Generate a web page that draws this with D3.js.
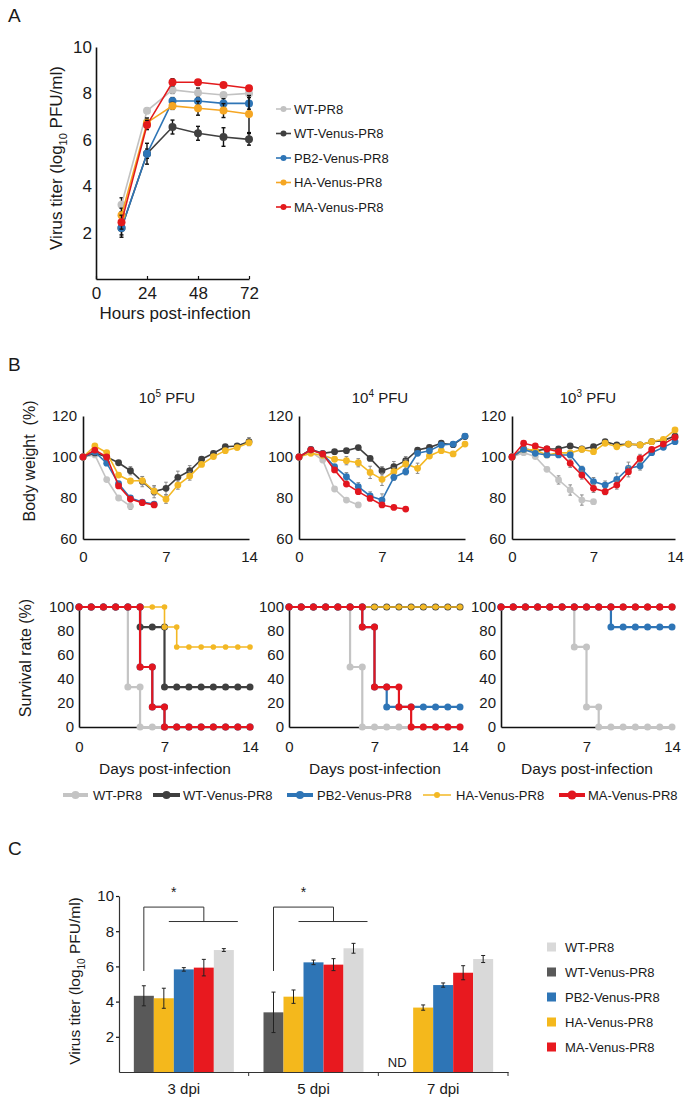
<!DOCTYPE html>
<html><head><meta charset="utf-8">
<script src="https://cdn.jsdelivr.net/npm/d3@7"></script>
<style>
body{margin:0;background:#fff}
text{font-family:"Liberation Sans",Arial,Helvetica,sans-serif;fill:#1a1a1a}
</style>
</head><body>
<svg id="fig" width="685" height="1102"></svg>
<script>
// ---------------- DATA ----------------
const strains = ["WT-PR8","WT-Venus-PR8","PB2-Venus-PR8","HA-Venus-PR8","MA-Venus-PR8"];

// Panel A: multi-step growth
const hoursA = [12,24,36,48,60,72];
const hoursTicksA = [0,24,48,72];
const titerTicksA = [2,4,6,8,10];
const titerA_WT  = [3.2,7.25,8.15,8.03,7.93,8.0];
const titerA_WTV = [2.2,5.4,6.55,6.28,6.12,6.02];
const titerA_PB2 = [2.2,5.4,7.67,7.67,7.57,7.57];
const titerA_HA  = [2.75,6.74,7.46,7.36,7.26,7.11];
const titerA_MA  = [2.45,6.64,8.48,8.48,8.36,8.22];
const errA_WT  = [0.3,0.1,0.15,0.2,0.1,0.15];
const errA_WTV = [0.4,0.45,0.3,0.3,0.4,0.25];
const errA_PB2 = [0.3,0.2,0.15,0.15,0.2,0.25];
const errA_HA  = [0.3,0.2,0.15,0.3,0.3,0.8];
const errA_MA  = [0.3,0.2,0.15,0.1,0.1,0.1];

// Panel B: body weight (%), days 0..14
const daysB = [0,1,2,3,4,5,6,7,8,9,10,11,12,13,14];
const doseTitles = ["5","4","3"];
const weightTicks = [60,80,100,120];
const dayTicks = [0,7,14];
const survTicks = [0,20,40,60,80,100];
const wt5_WT  = [100,101,89,80,76,null,null,null,null,null,null,null,null,null,null];
const wt5_WTV = [100,102,100,97.2,93.3,88,83.1,84.7,90.1,93.3,98.9,101.8,105,105.4,107.5];
const wt5_PB2 = [100,102.5,97,87,80,78,77,null,null,null,null,null,null,null,null];
const wt5_HA  = [100,105.4,102.1,91.2,88.3,88.5,83.4,79.4,86.3,90.7,96.4,100.2,103.1,104.6,107];
const wt5_MA  = [100,103.4,100,85.9,79.5,77.7,76.6,null,null,null,null,null,null,null,null];
const wt4_WT  = [100,102.5,98.5,84.4,79,76.6,null,null,null,null,null,null,null,null,null];
const wt4_WTV = [100,103.7,101.8,102.6,103.1,104.6,99.3,93.3,95.3,98.2,103.4,104.7,106.7,106,110];
const wt4_PB2 = [100,103.5,101.5,95.3,90.4,85.5,81,79,90.1,92.8,101.8,103,105.9,106.3,110.2];
const wt4_HA  = [100,101.8,100.8,98.9,98.2,97.2,92.5,89.1,92.8,96.6,94.5,100.5,103.1,101.5,106.3];
const wt4_MA  = [100,103.5,101.5,93.7,86.8,83.1,79.8,76.6,75.4,74.6,null,null,null,null,null];
const wt3_WT  = [100,102.1,100.2,94,88.8,83.9,79,78.2,null,null,null,null,null,null,null];
const wt3_WTV = [100,104,103,103.9,104,105.4,103.9,105,107.5,105.9,106.3,105.9,107.5,108,110.2];
const wt3_PB2 = [100,103.7,101.8,101,101,101,94,88,86.3,89.1,94.5,95.6,102.1,104.7,107.5];
const wt3_HA  = [100,103.7,103.4,101,102.1,102,103.7,102.6,106.7,105,106.3,105.9,107.5,108.6,113.2];
const wt3_MA  = [100,106.7,105.4,103.9,102.6,96.9,91.2,84.7,83.1,86.3,92.8,99.3,103.7,106.3,109.6];
// weight error bars (SD)
const we5_WT  = [0,0,0,1,1.5,0,0,0,0,0,0,0,0,0,0];
const we5_WTV = [0,0,0,1,2,2.5,3,3,3,2.5,1,1,1,1,2];
const we5_HA  = [0,1,1,1,1,2,2,2,2,2,1,1,1,1,1];
const we4_WTV = [0,0,0,0,0,0,1,2,2.5,2,1,1,1,1,1];
const we4_PB2 = [0,0,0,1,2,2,2,3,1.5,1.5,1,1,1,1,1];
const we4_HA  = [0,0,0,1,2,2,3,3,2,2,2.5,1,1,1,1];
const we3_WT  = [0,0,0,1,2,2.5,2.5,1];
const we3_PB2 = [0,0,0,0,0,0,1.5,2,2,3,3,2,1,1,1];
const we3_MA  = [0,0,0,0,0,2,2,2,1.5,2,2.5,2,1,1,1];

// Panel B: survival (%), days 0..14
const sv5_WT  = [100,100,100,100,33.3,0,0,0,0,0,0,0,0,0,0];
const sv5_WTV = [100,100,100,100,100,83.3,83.3,33.3,33.3,33.3,33.3,33.3,33.3,33.3,33.3];
const sv5_PB2 = [100,100,100,100,100,50,16.7,0,0,0,0,0,0,0,0];
const sv5_HA  = [100,100,100,100,100,100,100,83.3,66.7,66.7,66.7,66.7,66.7,66.7,66.7];
const sv5_MA  = [100,100,100,100,100,50,16.7,0,0,0,0,0,0,0,0];
const sv4_WT  = [100,100,100,100,100,50,0,0,0,0,0,0,0,0,0];
const sv4_WTV = [100,100,100,100,100,100,100,100,100,100,100,100,100,100,100];
const sv4_PB2 = [100,100,100,100,100,100,83.3,33.3,16.7,16.7,16.7,16.7,16.7,16.7,16.7];
const sv4_HA  = [100,100,100,100,100,100,100,100,100,100,100,100,100,100,100];
const sv4_MA  = [100,100,100,100,100,100,83.3,33.3,33.3,16.7,0,0,0,0,0];
const sv3_WT  = [100,100,100,100,100,100,66.7,16.7,0,0,0,0,0,0,0];
const sv3_WTV = [100,100,100,100,100,100,100,100,100,100,100,100,100,100,100];
const sv3_PB2 = [100,100,100,100,100,100,100,100,100,83.3,83.3,83.3,83.3,83.3,83.3];
const sv3_HA  = [100,100,100,100,100,100,100,100,100,100,100,100,100,100,100];
const sv3_MA  = [100,100,100,100,100,100,100,100,100,100,100,100,100,100,100];

// Panel C: lung titers
const dpiLabels = ["3 dpi","5 dpi","7 dpi"];
const barOrder = ["WT-Venus-PR8","HA-Venus-PR8","PB2-Venus-PR8","MA-Venus-PR8","WT-PR8"];
const legendOrderC = ["WT-PR8","WT-Venus-PR8","PB2-Venus-PR8","HA-Venus-PR8","MA-Venus-PR8"];
const titerTicksC = [2,4,6,8,10];
const titerC_WTV = [4.33,3.39,null];
const titerC_HA  = [4.19,4.28,3.66];
const titerC_PB2 = [5.83,6.23,4.94];
const titerC_MA  = [5.93,6.10,5.64];
const titerC_WT  = [6.93,7.03,6.42];
const errC_WTV = [0.57,1.15,0];
const errC_HA  = [0.57,0.38,0.15];
const errC_PB2 = [0.1,0.13,0.12];
const errC_MA  = [0.47,0.34,0.4];
const errC_WT  = [0.08,0.28,0.2];

// ---------------- DRAWING ----------------
const svg = d3.select("#fig");
const colA = {"WT-PR8":"#c2c2c2","WT-Venus-PR8":"#404040","PB2-Venus-PR8":"#2e75b6","HA-Venus-PR8":"#f5a623","MA-Venus-PR8":"#e31a1c"};
const colB = {"WT-PR8":"#c4c4c4","WT-Venus-PR8":"#3f3f3f","PB2-Venus-PR8":"#2e75b6","HA-Venus-PR8":"#f3b824","MA-Venus-PR8":"#e2161f"};
const colC = {"WT-PR8":"#d9d9d9","WT-Venus-PR8":"#595959","PB2-Venus-PR8":"#2e75b6","HA-Venus-PR8":"#f4b81c","MA-Venus-PR8":"#e8191f"};

function styleAxis(g, size){
  g.attr("font-size", size);
  g.select(".domain").attr("stroke","#111").attr("stroke-width",1.6);
  g.selectAll(".tick line").attr("stroke","#111").attr("stroke-width",1.2);
  g.selectAll(".tick text").attr("fill","#1a1a1a");
}
function rotLabel(cx, cy, size, parts){
  const t = svg.append("text").attr("transform",`translate(${cx},${cy}) rotate(-90)`)
    .attr("text-anchor","middle").attr("font-size",size);
  parts.forEach(p=>{
    const ts = t.append("tspan").text(p.t);
    if(p.dy) ts.attr("dy",p.dy);
    if(p.fs) ts.attr("font-size",p.fs);
  });
}
function panelLetter(x,y,s){ svg.append("text").attr("x",x).attr("y",y).attr("font-size",19).text(s); }

// ===== Panel A =====
panelLetter(8,22,"A");
const xA = d3.scaleLinear().domain([0,72]).range([96,249]);
const yA = d3.scaleLinear().domain([0,10]).range([279,47]);
styleAxis(svg.append("g").attr("transform","translate(0,279)")
  .call(d3.axisBottom(xA).tickValues(hoursTicksA).tickSizeInner(-3).tickSizeOuter(0).tickPadding(8)), 17);
styleAxis(svg.append("g").attr("transform","translate(96,0)")
  .call(d3.axisLeft(yA).tickValues(titerTicksA).tickSize(0).tickPadding(4)), 17);
svg.append("text").attr("x",175).attr("y",319).attr("text-anchor","middle").attr("font-size",17).text("Hours post-infection");
rotLabel(62,158,17,[{t:"Virus titer (log"},{t:"10",dy:5,fs:11},{t:" PFU/ml)",dy:-5}]);

const seriesA = [
  {name:"WT-PR8", v:titerA_WT, e:errA_WT},
  {name:"WT-Venus-PR8", v:titerA_WTV, e:errA_WTV},
  {name:"PB2-Venus-PR8", v:titerA_PB2, e:errA_PB2},
  {name:"HA-Venus-PR8", v:titerA_HA, e:errA_HA},
  {name:"MA-Venus-PR8", v:titerA_MA, e:errA_MA}
];
const lineA = d3.line().x((d,i)=>xA(hoursA[i])).y(d=>yA(d));
seriesA.forEach(s=>{
  const g = svg.append("g");
  s.v.forEach((d,i)=>{
    const x = xA(hoursA[i]);
    g.append("line").attr("x1",x).attr("x2",x).attr("y1",yA(d-s.e[i])).attr("y2",yA(d+s.e[i])).attr("stroke","#111").attr("stroke-width",1.4);
    [d-s.e[i], d+s.e[i]].forEach(v=>g.append("line").attr("x1",x-2).attr("x2",x+2).attr("y1",yA(v)).attr("y2",yA(v)).attr("stroke","#111").attr("stroke-width",1.4));
  });
  g.append("path").attr("d",lineA(s.v)).attr("fill","none").attr("stroke",colA[s.name]).attr("stroke-width",1.6);
  g.selectAll("circle").data(s.v).join("circle").attr("cx",(d,i)=>xA(hoursA[i])).attr("cy",d=>yA(d)).attr("r",4).attr("fill",colA[s.name]);
});
// Legend A
strains.forEach((n,i)=>{
  const y = 109 + i*24.5;
  svg.append("line").attr("x1",276).attr("x2",291).attr("y1",y).attr("y2",y).attr("stroke",colA[n]).attr("stroke-width",1.6);
  svg.append("circle").attr("cx",283.5).attr("cy",y).attr("r",3).attr("fill",colA[n]);
  svg.append("text").attr("x",294).attr("y",y+4.5).attr("font-size",13).text(n);
});

// ===== Panel B =====
panelLetter(8,371,"B");
const wData = [
  {WT:wt5_WT,WTV:wt5_WTV,PB2:wt5_PB2,HA:wt5_HA,MA:wt5_MA},
  {WT:wt4_WT,WTV:wt4_WTV,PB2:wt4_PB2,HA:wt4_HA,MA:wt4_MA},
  {WT:wt3_WT,WTV:wt3_WTV,PB2:wt3_PB2,HA:wt3_HA,MA:wt3_MA}
];
const wErr = [
  {WT:we5_WT,WTV:we5_WTV,HA:we5_HA},
  {WTV:we4_WTV,PB2:we4_PB2,HA:we4_HA},
  {WT:we3_WT,PB2:we3_PB2,MA:we3_MA}
];
const sData = [
  {WT:sv5_WT,WTV:sv5_WTV,PB2:sv5_PB2,HA:sv5_HA,MA:sv5_MA},
  {WT:sv4_WT,WTV:sv4_WTV,PB2:sv4_PB2,HA:sv4_HA,MA:sv4_MA},
  {WT:sv3_WT,WTV:sv3_WTV,PB2:sv3_PB2,HA:sv3_HA,MA:sv3_MA}
];
const keyName = {WT:"WT-PR8",WTV:"WT-Venus-PR8",PB2:"PB2-Venus-PR8",HA:"HA-Venus-PR8",MA:"MA-Venus-PR8"};
const drawOrder = ["WT","WTV","HA","PB2","MA"];
const survOrder = ["WT","WTV","HA","PB2","MA"];
const wX0 = [83,299,512], wW = [166,166,163], wTitleX = [167,380,588];
const sX0 = [79,289,501];

for(let c=0;c<3;c++){
  // title
  const tt = svg.append("text").attr("x",wTitleX[c]).attr("y",403).attr("text-anchor","middle").attr("font-size",15);
  tt.append("tspan").text("10");
  tt.append("tspan").attr("dy",-6).attr("font-size",10).text(doseTitles[c]);
  tt.append("tspan").attr("dy",6).text(" PFU");

  // weight chart
  const x = d3.scaleLinear().domain([0,14]).range([wX0[c], wX0[c]+wW[c]]);
  const y = d3.scaleLinear().domain([60,120]).range([539,416]);
  styleAxis(svg.append("g").attr("transform","translate(0,539)")
    .call(d3.axisBottom(x).tickValues(dayTicks).tickSize(0).tickPadding(12)), 15);
  styleAxis(svg.append("g").attr("transform",`translate(${wX0[c]},0)`)
    .call(d3.axisLeft(y).tickValues(weightTicks).tickSize(0).tickPadding(6)), 15);
  const line = d3.line().defined(d=>d!=null).x((d,i)=>x(daysB[i])).y(d=>y(d));
  drawOrder.forEach(k=>{
    const vals = wData[c][k], errs = wErr[c][k], col = colB[keyName[k]];
    const g = svg.append("g");
    if(errs){
      errs.forEach((e,i)=>{
        if(!e || vals[i]==null) return;
        const xx = x(daysB[i]);
        g.append("line").attr("x1",xx).attr("x2",xx).attr("y1",y(vals[i]-e)).attr("y2",y(vals[i]+e)).attr("stroke","#8a8a8a").attr("stroke-width",1);
        [vals[i]-e, vals[i]+e].forEach(v=>g.append("line").attr("x1",xx-1.8).attr("x2",xx+1.8).attr("y1",y(v)).attr("y2",y(v)).attr("stroke","#8a8a8a").attr("stroke-width",1));
      });
    }
    g.append("path").attr("d",line(vals)).attr("fill","none").attr("stroke",col).attr("stroke-width",1.6);
    g.selectAll("circle").data(vals.map((v,i)=>({v,i})).filter(d=>d.v!=null)).join("circle")
      .attr("cx",d=>x(daysB[d.i])).attr("cy",d=>y(d.v)).attr("r",3.4).attr("fill",col);
  });

  // survival chart
  const xs = d3.scaleLinear().domain([0,14]).range([sX0[c], sX0[c]+171]);
  const ys = d3.scaleLinear().domain([0,100]).range([727,607]);
  styleAxis(svg.append("g").attr("transform","translate(0,727)")
    .call(d3.axisBottom(xs).tickValues(dayTicks).tickSize(0).tickPadding(14)), 15);
  styleAxis(svg.append("g").attr("transform",`translate(${sX0[c]},0)`)
    .call(d3.axisLeft(ys).tickValues(survTicks).tickSize(0).tickPadding(5)), 15);
  svg.append("text").attr("x",sX0[c]+86).attr("y",774).attr("text-anchor","middle").attr("font-size",15.5).text("Days post-infection");
  const sline = d3.line().curve(d3.curveStepAfter).x((d,i)=>xs(daysB[i])).y(d=>ys(d));
  survOrder.forEach(k=>{
    const vals = sData[c][k], col = colB[keyName[k]];
    const g = svg.append("g");
    g.append("path").attr("d",sline(vals)).attr("fill","none").attr("stroke",col).attr("stroke-width",k==="HA"?1.6:2.2);
    const pts = [];
    vals.forEach((v,i)=>{ pts.push({d:daysB[i],v}); if(i>0 && vals[i-1]!==v) pts.push({d:daysB[i],v:vals[i-1]}); });
    g.selectAll("circle").data(pts).join("circle").attr("cx",d=>xs(d.d)).attr("cy",d=>ys(d.v))
      .attr("r",k==="HA"?2.8:3.5).attr("fill",col);
  });
}
rotLabel(35,461,16,[{t:"Body weight\u00a0\u00a0(%)"}]);
rotLabel(31,658,16,[{t:"Survival rate (%)"}]);

// Legend B
const legB = [
  {n:"WT-PR8",x1:63,x2:88,tx:93,w:4,r:4},
  {n:"WT-Venus-PR8",x1:153,x2:180,tx:183,w:4,r:4},
  {n:"PB2-Venus-PR8",x1:287,x2:313,tx:317,w:4,r:4},
  {n:"HA-Venus-PR8",x1:423,x2:451,tx:456,w:1.5,r:3},
  {n:"MA-Venus-PR8",x1:559,x2:585,tx:588,w:4,r:4.5}
];
legB.forEach(l=>{
  const y = 795;
  svg.append("line").attr("x1",l.x1).attr("x2",l.x2).attr("y1",y).attr("y2",y).attr("stroke",colB[l.n]).attr("stroke-width",l.w);
  svg.append("circle").attr("cx",(l.x1+l.x2)/2).attr("cy",y).attr("r",l.r).attr("fill",colB[l.n]);
  svg.append("text").attr("x",l.tx).attr("y",y+4.5).attr("font-size",13).text(l.n);
});

// ===== Panel C =====
panelLetter(8,855,"C");
const xC = d3.scaleBand().domain(dpiLabels).range([119,508]).paddingInner(0).paddingOuter(0);
const xCi = d3.scaleBand().domain(barOrder).range([(xC.bandwidth()-100)/2,(xC.bandwidth()+100)/2]);
const yC = d3.scaleLinear().domain([0,10]).range([1072,896]);
const valsC = {"WT-Venus-PR8":titerC_WTV,"HA-Venus-PR8":titerC_HA,"PB2-Venus-PR8":titerC_PB2,"MA-Venus-PR8":titerC_MA,"WT-PR8":titerC_WT};
const errsC = {"WT-Venus-PR8":errC_WTV,"HA-Venus-PR8":errC_HA,"PB2-Venus-PR8":errC_PB2,"MA-Venus-PR8":errC_MA,"WT-PR8":errC_WT};
dpiLabels.forEach((dl,gi)=>{
  barOrder.forEach(n=>{
    const v = valsC[n][gi];
    const bx = xC(dl)+xCi(n);
    if(v==null){
      svg.append("text").attr("x",bx+xCi.bandwidth()/2-6).attr("y",1067).attr("text-anchor","middle").attr("font-size",13).text("ND");
      return;
    }
    svg.append("rect").attr("x",bx).attr("y",yC(v)).attr("width",xCi.bandwidth()).attr("height",yC(0)-yC(v)).attr("fill",colC[n]);
    const e = errsC[n][gi], cx = bx+xCi.bandwidth()/2;
    svg.append("line").attr("x1",cx).attr("x2",cx).attr("y1",yC(v-e)).attr("y2",yC(v+e)).attr("stroke","#222").attr("stroke-width",1);
    [v-e,v+e].forEach(t=>svg.append("line").attr("x1",cx-2).attr("x2",cx+2).attr("y1",yC(t)).attr("y2",yC(t)).attr("stroke","#222").attr("stroke-width",1));
  });
});
const axC = svg.append("g").attr("transform","translate(0,1072)")
  .call(d3.axisBottom(xC).tickSize(0).tickPadding(11));
styleAxis(axC,15);
axC.select(".domain").attr("stroke-width",1.2).attr("stroke","#333");
dpiLabels.forEach(dl=>{
  const xx = xC(dl)+xC.step();
  svg.append("line").attr("x1",xx).attr("x2",xx).attr("y1",1072).attr("y2",1076).attr("stroke","#333").attr("stroke-width",1);
});
const ayC = svg.append("g").attr("transform","translate(119,0)")
  .call(d3.axisLeft(yC).tickValues(titerTicksC).tickSizeInner(3).tickSizeOuter(0).tickPadding(2));
styleAxis(ayC,15);
ayC.select(".domain").attr("stroke-width",1.2).attr("stroke","#333");
rotLabel(80,981,15.5,[{t:"Virus titer (log"},{t:"10",dy:5,fs:10},{t:" PFU/ml)",dy:-5}]);

// significance brackets (3 dpi, 5 dpi)
[0,1].forEach(gi=>{
  const dl = dpiLabels[gi];
  const xL = xC(dl)+xCi("WT-Venus-PR8")+xCi.bandwidth()/2;
  const xM = xC(dl)+xCi("MA-Venus-PR8")+xCi.bandwidth()/2;
  const xH = xC(dl)+xCi("HA-Venus-PR8")+xCi.bandwidth()/2+5;
  const xR = xC(dl)+xCi("WT-PR8")+xCi.bandwidth()+4;
  const yTop = yC(9.37), yLow = yC(8.55), yStart = yC(5.74);
  svg.append("path").attr("d",`M${xL},${yStart}V${yTop}H${xM}V${yLow}`).attr("fill","none").attr("stroke","#333").attr("stroke-width",1);
  svg.append("line").attr("x1",xH).attr("x2",xR).attr("y1",yLow).attr("y2",yLow).attr("stroke","#333").attr("stroke-width",1);
  svg.append("text").attr("x",(xL+xM)/2).attr("y",yTop-10).attr("text-anchor","middle").attr("font-size",14).text("*");
});

// Legend C
legendOrderC.forEach((n,i)=>{
  const y = 947 + i*25;
  svg.append("rect").attr("x",547).attr("y",y-4.5).attr("width",9).attr("height",9).attr("fill",colC[n]);
  svg.append("text").attr("x",565).attr("y",y+4.5).attr("font-size",13).text(n);
});
</script>
</body></html>
